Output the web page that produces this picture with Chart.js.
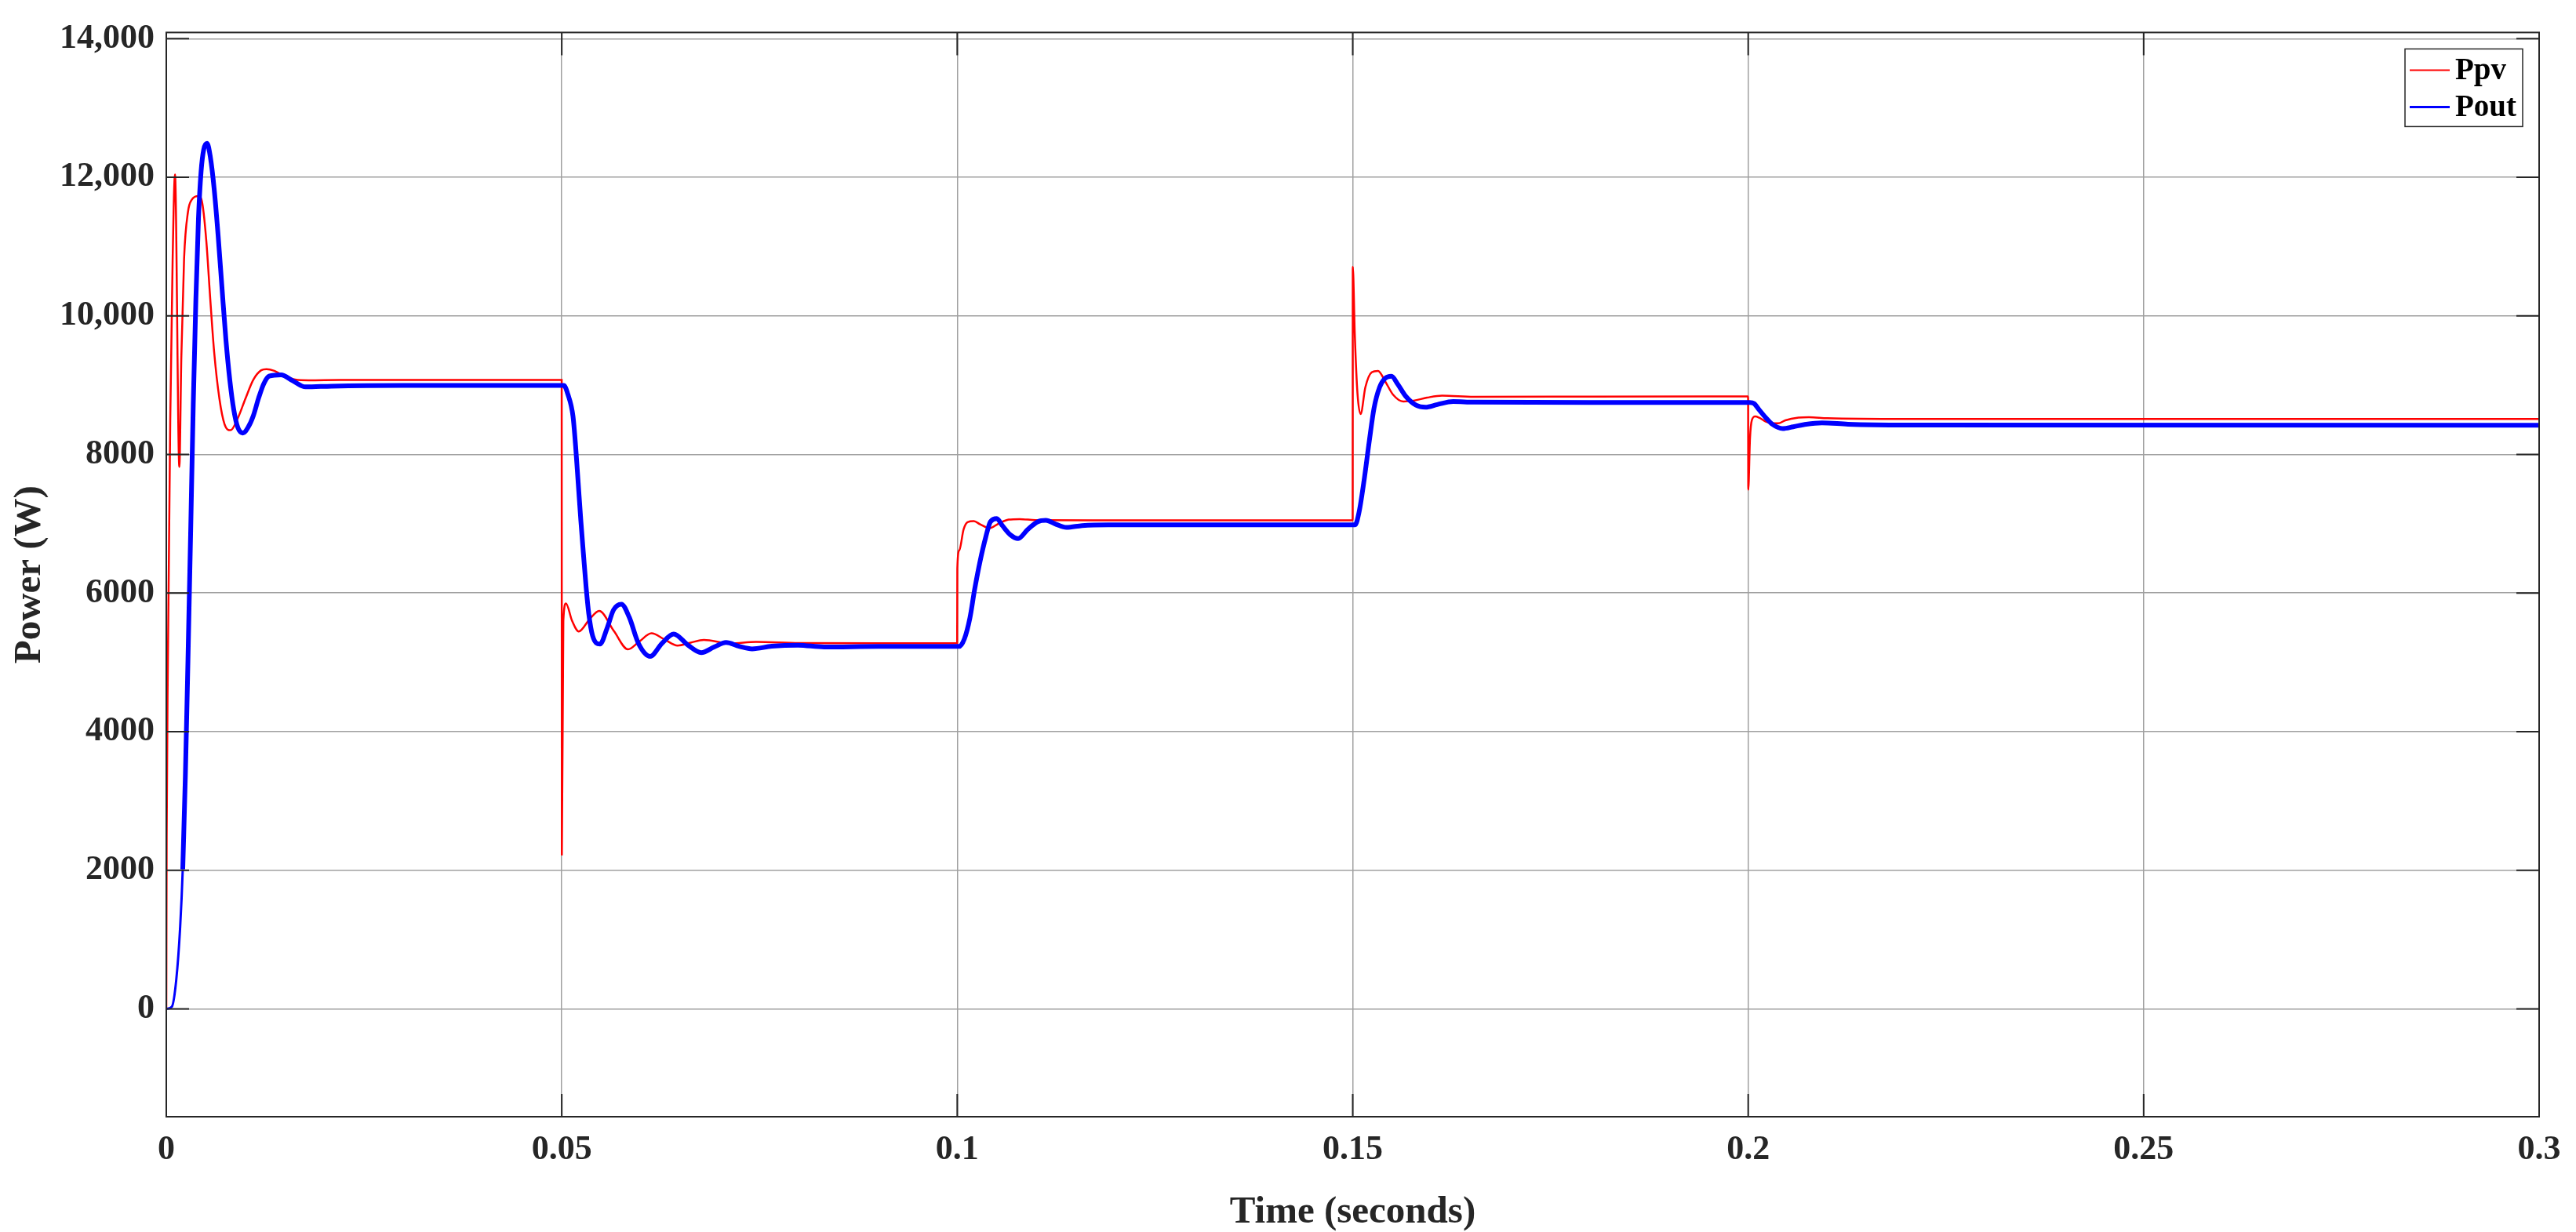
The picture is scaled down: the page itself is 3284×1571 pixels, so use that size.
<!DOCTYPE html>
<html>
<head>
<meta charset="utf-8">
<title>Ppv / Pout</title>
<script src="https://cdn.jsdelivr.net/npm/chart.js@4/dist/chart.umd.min.js"></script>
<style>
  html, body { margin: 0; padding: 0; background: #fff; }
  #wrap { width: 3284px; height: 1571px; }
</style>
</head>
<body>
<div id="wrap"><canvas id="chart" width="3284" height="1571"></canvas></div>
<script>
// Ppv (red)
const pvTime = [
  0, 0.00005, 0.0002, 0.0005, 0.0008, 0.0011, 0.00165, 0.0019, 0.00225, 0.00274,
  0.00324, 0.00407, 0.00456, 0.00506, 0.00556, 0.00605, 0.00671, 0.00737, 0.00813, 0.00903,
  0.01002, 0.01101, 0.012, 0.01267, 0.01366, 0.0148, 0.0163, 0.018, 0.022, 0.03,
  0.04, 0.04999,
  0.05001, 0.0502, 0.05053, 0.0513, 0.05215, 0.0535, 0.05473, 0.0566, 0.05837, 0.0598,
  0.06134, 0.063, 0.06465, 0.0663, 0.06796, 0.0713, 0.07457, 0.08, 0.09, 0.09999,
  0.10001, 0.10026, 0.1008, 0.1013, 0.1021, 0.1029, 0.1041, 0.1052, 0.1065, 0.1079,
  0.1099, 0.12, 0.14, 0.14999,
  0.15001, 0.15026, 0.1506, 0.151, 0.1516, 0.1524, 0.1532, 0.1541, 0.1551, 0.1564,
  0.1577, 0.1594, 0.1613, 0.1653, 0.18, 0.19999,
  0.20001, 0.20023, 0.20046, 0.2009, 0.20139, 0.20222, 0.20304, 0.2038, 0.2047, 0.20635,
  0.20767, 0.21, 0.22, 0.25, 0.3
];
const pvPower = [
  0, 2500, 5000, 8500, 10800, 12040, 7820, 9400, 10830, 11500,
  11680, 11730, 11620, 11080, 10240, 9480, 8810, 8435, 8350, 8520,
  8810, 9080, 9215, 9232, 9207, 9140, 9080, 9070, 9075, 9075,
  9075, 9075,
  2215, 5600, 5850, 5600, 5446, 5620, 5742, 5450, 5188, 5300,
  5419, 5330, 5242, 5285, 5323, 5272, 5296, 5278, 5275, 5275,
  6353, 6617, 6917, 7023, 7038, 6992, 6936, 7000, 7060, 7068,
  7053, 7050, 7050, 7050,
  10708, 9742, 8884, 8584, 8970, 9185, 9206, 9056, 8863, 8764,
  8777, 8820, 8850, 8833, 8835, 8838,
  7492, 8232, 8493, 8550, 8531, 8475, 8449, 8449, 8493, 8531,
  8538, 8523, 8512, 8512, 8512
];

// Pout (blue)
const outTime = [
  0, 0.0007, 0.00126, 0.00175, 0.00208, 0.00241, 0.00274, 0.00308, 0.00341, 0.00374,
  0.00407, 0.0044, 0.00473, 0.00516, 0.00556, 0.00605, 0.00655, 0.00704, 0.00754, 0.00804,
  0.00853, 0.00903, 0.00969, 0.01035, 0.01101, 0.01167, 0.01233, 0.013, 0.0145, 0.016,
  0.0176, 0.0209, 0.03, 0.04, 0.05026,
  0.05076, 0.05142, 0.05175, 0.05208, 0.05241, 0.05274, 0.05308, 0.05341, 0.0539, 0.05483,
  0.05572, 0.05655, 0.05754, 0.05853, 0.05969, 0.06118, 0.06267, 0.06415, 0.06597, 0.06763,
  0.06927, 0.07077, 0.07242, 0.07407, 0.07655, 0.07986, 0.08317, 0.09, 0.10026,
  0.1009, 0.1016, 0.1022, 0.1029, 0.1036, 0.1042, 0.105, 0.1057, 0.1067, 0.1077,
  0.1089, 0.1102, 0.1112, 0.1125, 0.1138, 0.1158, 0.1191, 0.13, 0.1503,
  0.1508, 0.1514, 0.1521, 0.1527, 0.1534, 0.1541, 0.1549, 0.1557, 0.1567, 0.158,
  0.1592, 0.1607, 0.1627, 0.1653, 0.18, 0.2002,
  0.20073, 0.20139, 0.20222, 0.20304, 0.20437, 0.20569, 0.20734, 0.20933, 0.21263, 0.22,
  0.3
];
const outPower = [
  0, 30, 420, 1175, 2014, 3357, 5036, 6882, 8729, 10240,
  11414, 12085, 12400, 12490, 12300, 11834, 11163, 10407, 9652, 9064,
  8645, 8393, 8309, 8393, 8561, 8813, 9022, 9130, 9150, 9063,
  8975, 8986, 8995, 8995, 8995,
  8872, 8550, 8121, 7584, 7047, 6564, 6081, 5705, 5383, 5264,
  5490, 5758, 5839, 5651, 5275, 5087, 5275, 5409, 5248, 5141,
  5222, 5286, 5232, 5195, 5232, 5248, 5222, 5230, 5230,
  5338, 5639, 6053, 6466, 6805, 7030, 7075, 6974, 6842, 6786,
  6917, 7030, 7049, 6992, 6947, 6974, 6985, 6985, 6985,
  7167, 7597, 8197, 8670, 8970, 9099, 9129, 9013, 8841, 8712,
  8682, 8721, 8764, 8755, 8750, 8750,
  8736, 8643, 8531, 8437, 8374, 8400, 8437, 8456, 8437, 8426,
  8423
];

const seriesNames = ['Ppv', 'Pout'];
const seriesColors = ['#ff0000', '#0000ff'];

const timeTicks = [0, 0.05, 0.1, 0.15, 0.2, 0.25, 0.3];
const timeTickLabels = ['0', '0.05', '0.1', '0.15', '0.2', '0.25', '0.3'];
const powerTicks = [0, 2000, 4000, 6000, 8000, 10000, 12000, 14000];
const powerTickLabels = ['0', '2000', '4000', '6000', '8000', '10,000', '12,000', '14,000'];

const serif = "'Liberation Serif', 'Times New Roman', serif";
const ink = '#262626';

function points(ts, vs) {
  return ts.map((t, i) => ({ x: t, y: vs[i] }));
}

// box, inward tick marks and the legend in the top right corner
const frame = {
  id: 'frame',
  afterDatasetsDraw(chart) {
    const ctx = chart.ctx;
    const a = chart.chartArea;
    const sx = chart.scales.x, sy = chart.scales.y;
    const len = 29;
    ctx.save();
    ctx.strokeStyle = ink;
    ctx.lineWidth = 2;
    ctx.beginPath();
    sx.ticks.forEach(t => {
      const px = sx.getPixelForValue(t.value);
      ctx.moveTo(px, a.bottom); ctx.lineTo(px, a.bottom - len);
      ctx.moveTo(px, a.top); ctx.lineTo(px, a.top + len);
    });
    sy.ticks.forEach(t => {
      const py = sy.getPixelForValue(t.value);
      ctx.moveTo(a.left, py); ctx.lineTo(a.left + len, py);
      ctx.moveTo(a.right, py); ctx.lineTo(a.right - len, py);
    });
    ctx.stroke();
    ctx.strokeRect(a.left, a.top, a.right - a.left, a.bottom - a.top);

    // legend
    const bw = 150, bh = 99;
    const bx = a.right - 21 - bw, by = a.top + 21;
    ctx.fillStyle = '#fff';
    ctx.fillRect(bx, by, bw, bh);
    ctx.lineWidth = 1.5;
    ctx.strokeStyle = ink;
    ctx.strokeRect(bx, by, bw, bh);
    ctx.font = 'bold 39px ' + serif;
    ctx.textBaseline = 'middle';
    ctx.textAlign = 'left';
    chart.data.datasets.forEach((ds, i) => {
      const y = by + 27 + i * 47;
      ctx.strokeStyle = ds.borderColor;
      ctx.lineWidth = i === 0 ? 2 : 3;
      ctx.beginPath();
      ctx.moveTo(bx + 6, y);
      ctx.lineTo(bx + 57, y);
      ctx.stroke();
      ctx.fillStyle = '#000';
      ctx.fillText(ds.label, bx + 64, y + 2);
    });
    ctx.restore();
  }
};

const ctx = document.getElementById('chart');
const myChart = new Chart(ctx, {
  type: 'line',
  data: {
    datasets: [
      {
        label: seriesNames[0],
        data: points(pvTime, pvPower),
        borderColor: seriesColors[0],
        borderWidth: 2.5,
        pointRadius: 0,
        cubicInterpolationMode: 'monotone',
        order: 1
      },
      {
        label: seriesNames[1],
        data: points(outTime, outPower),
        borderColor: seriesColors[1],
        borderWidth: 6,
        pointRadius: 0,
        cubicInterpolationMode: 'monotone',
        segment: {
          borderWidth: c => (c.p0.parsed.y < 3000 && c.p1.parsed.y < 3000) ? 3 : 6
        },
        order: 0
      }
    ]
  },
  options: {
    responsive: false,
    animation: false,
    devicePixelRatio: 1,
    layout: { padding: { top: 32, right: 47, left: 0, bottom: 0 } },
    plugins: {
      legend: { display: false },
      tooltip: { enabled: false }
    },
    scales: {
      x: {
        type: 'linear',
        min: 0,
        max: 0.3,
        afterBuildTicks: s => { s.ticks = timeTicks.map(v => ({ value: v })); },
        afterFit: s => { s.height = 147; },
        grid: { color: '#a0a0a0', lineWidth: 1.5, drawTicks: false },
        border: { display: false },
        ticks: {
          autoSkip: false,
          maxRotation: 0,
          padding: 16,
          color: ink,
          font: { family: serif, size: 44, weight: 'bold', lineHeight: 1.2 },
          callback: (v, i) => timeTickLabels[i]
        },
        title: {
          display: true,
          text: 'Time (seconds)',
          color: ink,
          padding: { top: 0, bottom: 0 },
          font: { family: serif, size: 49, weight: 'bold', lineHeight: 1 }
        }
      },
      y: {
        type: 'linear',
        min: -1557,
        max: 14090,
        afterBuildTicks: s => { s.ticks = powerTicks.map(v => ({ value: v })); },
        afterFit: s => { s.width = 212; },
        grid: { color: '#a0a0a0', lineWidth: 1.5, drawTicks: false },
        border: { display: false },
        ticks: {
          padding: 15,
          color: ink,
          font: { family: serif, size: 44, weight: 'bold' },
          callback: (v, i) => powerTickLabels[i]
        },
        title: {
          display: true,
          text: 'Power (W)',
          color: ink,
          padding: { top: 9, bottom: 0 },
          font: { family: serif, size: 49, weight: 'bold', lineHeight: 1.2 }
        }
      }
    }
  },
  plugins: [frame]
});
</script>
</body>
</html>
